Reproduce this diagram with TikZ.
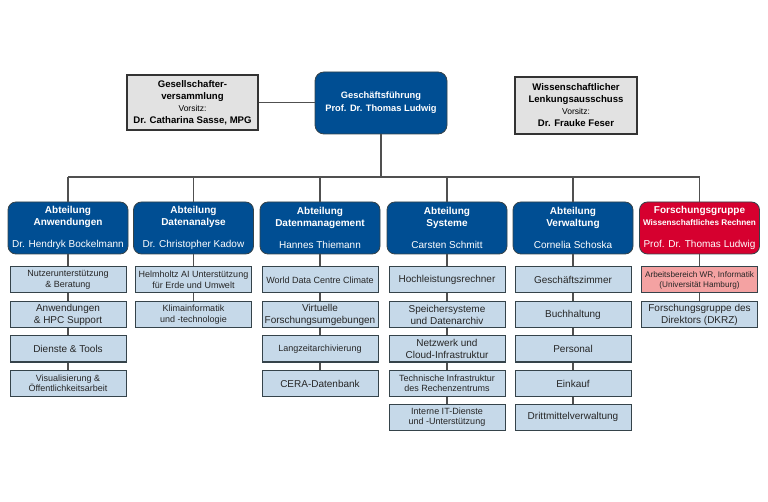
\documentclass[tikz,border=0pt]{standalone}
\usepackage{fontspec}
\setmainfont{Liberation Sans}
\definecolor{dblue}{HTML}{004E93}
\definecolor{dred}{HTML}{D6002F}
\definecolor{lblue}{HTML}{C6D9E9}
\definecolor{pinkbox}{HTML}{F4A2A2}
\definecolor{lgrey}{HTML}{E2E2E2}
\definecolor{conncol}{HTML}{505050}
\definecolor{bordcol}{HTML}{35434A}
\newcommand{\fsA}{\fontsize{10}{12}\selectfont}
\newcommand{\fsB}{\fontsize{9}{10.5}\selectfont}
\newcommand{\fsC}{\fontsize{8.2}{10}\selectfont}
\begin{document}
\begin{tikzpicture}[x=1pt,y=-1pt,
  conn/.style={draw=conncol, line width=1.3pt},
  dept/.style={draw=bordcol, line width=0.8pt, fill=dblue, rounded corners=8pt,
    minimum width=120pt, minimum height=52pt, text=white, align=center,
    inner sep=0pt, font=\fsA},
  redbox/.style={dept, fill=dred},
  subbox/.style={draw=bordcol, line width=1pt, fill=lblue, minimum width=116pt,
    minimum height=26pt, align=center, inner sep=0pt, text=black!85, font=\fsA},
  pinkb/.style={subbox, fill=pinkbox, font=\fsC},
  greybox/.style={draw=black!80, line width=1.1pt, fill=lgrey, align=center,
    inner sep=0pt, text=black}
]
\useasboundingbox (0,0) rectangle (768,502);

% top level
\node[dept, minimum width=132pt, minimum height=62pt, rounded corners=9pt,
  font=\fontsize{9.3}{13}\selectfont\bfseries] (gf) at (381,103)
  {Geschäftsführung\\Prof. Dr. Thomas Ludwig};
\node[greybox, minimum width=131pt, minimum height=55pt] (gv) at (192.5,102.5)
  {\fontsize{9.6}{13}\selectfont\textbf{Gesellschafter-}\\
   \fontsize{9.6}{13}\selectfont\textbf{versammlung}\\
   \fontsize{8.5}{12}\selectfont Vorsitz:\\
   \fontsize{9.6}{11.5}\selectfont\textbf{Dr. Catharina Sasse, MPG}};
\node[greybox, minimum width=122pt, minimum height=57pt] (wl) at (576,105.5)
  {\fontsize{9.6}{12}\selectfont\textbf{Wissenschaftlicher}\\
   \fontsize{9.6}{12.5}\selectfont\textbf{Lenkungsausschuss}\\
   \fontsize{8.5}{12.5}\selectfont Vorsitz:\\
   \fontsize{9.6}{11.5}\selectfont\textbf{Dr. Frauke Feser}};

% departments
\node[dept] (d1) at (68,228) {\textbf{Abteilung}\\\textbf{Anwendungen}\\[10pt]Dr. Hendryk Bockelmann};
\node[dept] (d2) at (193.5,228) {\textbf{Abteilung}\\\textbf{Datenanalyse}\\[10pt]Dr. Christopher Kadow};
\node[dept] (d3) at (320,228) {\textbf{Abteilung}\\\textbf{Datenmanagement}\\[10pt]Hannes Thiemann};
\node[dept] (d4) at (447,228) {\textbf{Abteilung}\\\textbf{Systeme}\\[10pt]Carsten Schmitt};
\node[dept] (d5) at (573,228) {\textbf{Abteilung}\\\textbf{Verwaltung}\\[10pt]Cornelia Schoska};
\node[redbox] (d6) at (699.5,228) {\textbf{Forschungsgruppe}\\\fontsize{8.2}{11}\selectfont\textbf{Wissenschaftliches Rechnen}\\[10pt]\fsA Prof. Dr. Thomas Ludwig};

% column 1
\node[subbox, font=\fsB] (s1a) at (68,280) {Nutzerunterstützung\\\& Beratung};
\node[subbox] (s1b) at (68,314.5) {Anwendungen\\\& HPC Support};
\node[subbox] (s1c) at (68,349) {Dienste \& Tools};
\node[subbox, font=\fsB] (s1d) at (68,383.5) {Visualisierung \&\\Öffentlichkeitsarbeit};
% column 2
\node[subbox, font=\fsB] (s2a) at (193.5,280) {Helmholtz AI Unterstützung\\für Erde und Umwelt};
\node[subbox, font=\fsB] (s2b) at (193.5,314.5) {Klimainformatik\\und -technologie};
% column 3
\node[subbox, font=\fsB] (s3a) at (320,280) {World Data Centre Climate};
\node[subbox] (s3b) at (320,314.5) {Virtuelle\\Forschungsumgebungen};
\node[subbox, font=\fsB] (s3c) at (320,349) {Langzeitarchivierung};
\node[subbox] (s3d) at (320,383.5) {CERA-Datenbank};
% column 4
\node[subbox] (s4a) at (447,280) {Hochleistungsrechner};
\node[subbox] (s4b) at (447,314.5) {Speichersysteme\\und Datenarchiv};
\node[subbox] (s4c) at (447,349) {Netzwerk und\\Cloud-Infrastruktur};
\node[subbox, font=\fsB] (s4d) at (447,383.5) {Technische Infrastruktur\\des Rechenzentrums};
\node[subbox, font=\fsB] (s4e) at (447,417) {Interne IT-Dienste\\und -Unterstützung};
% column 5
\node[subbox] (s5a) at (573,280) {Geschäftszimmer};
\node[subbox] (s5b) at (573,314.5) {Buchhaltung};
\node[subbox] (s5c) at (573,349) {Personal};
\node[subbox] (s5d) at (573,383.5) {Einkauf};
\node[subbox] (s5e) at (573,417) {Drittmittelverwaltung};
% column 6
\node[pinkb] (s6a) at (699.5,280) {Arbeitsbereich WR, Informatik\\(Universität Hamburg)};
\node[subbox] (s6b) at (699.5,314.5) {Forschungsgruppe des\\Direktors (DKRZ)};

% connectors
\draw[conn] (gv.east) -- (gv.east -| gf.west);
\coordinate (bus) at (381,177);
\draw[conn] (gf.south) -- (bus);
\draw[conn] (d1.north |- bus) -- (d6.north |- bus);
\foreach \d in {d1,d2,d3,d4,d5,d6}
  \draw[conn] (\d.north |- bus) -- (\d.north);
\foreach \a/\b in {d1/s1a,s1a/s1b,s1b/s1c,s1c/s1d,
                   d2/s2a,s2a/s2b,
                   d3/s3a,s3a/s3b,s3b/s3c,s3c/s3d,
                   d4/s4a,s4a/s4b,s4b/s4c,s4c/s4d,s4d/s4e,
                   d5/s5a,s5a/s5b,s5b/s5c,s5c/s5d,s5d/s5e,
                   d6/s6a,s6a/s6b}
  \draw[conn] (\a.south) -- (\b.north);
\end{tikzpicture}
\end{document}
